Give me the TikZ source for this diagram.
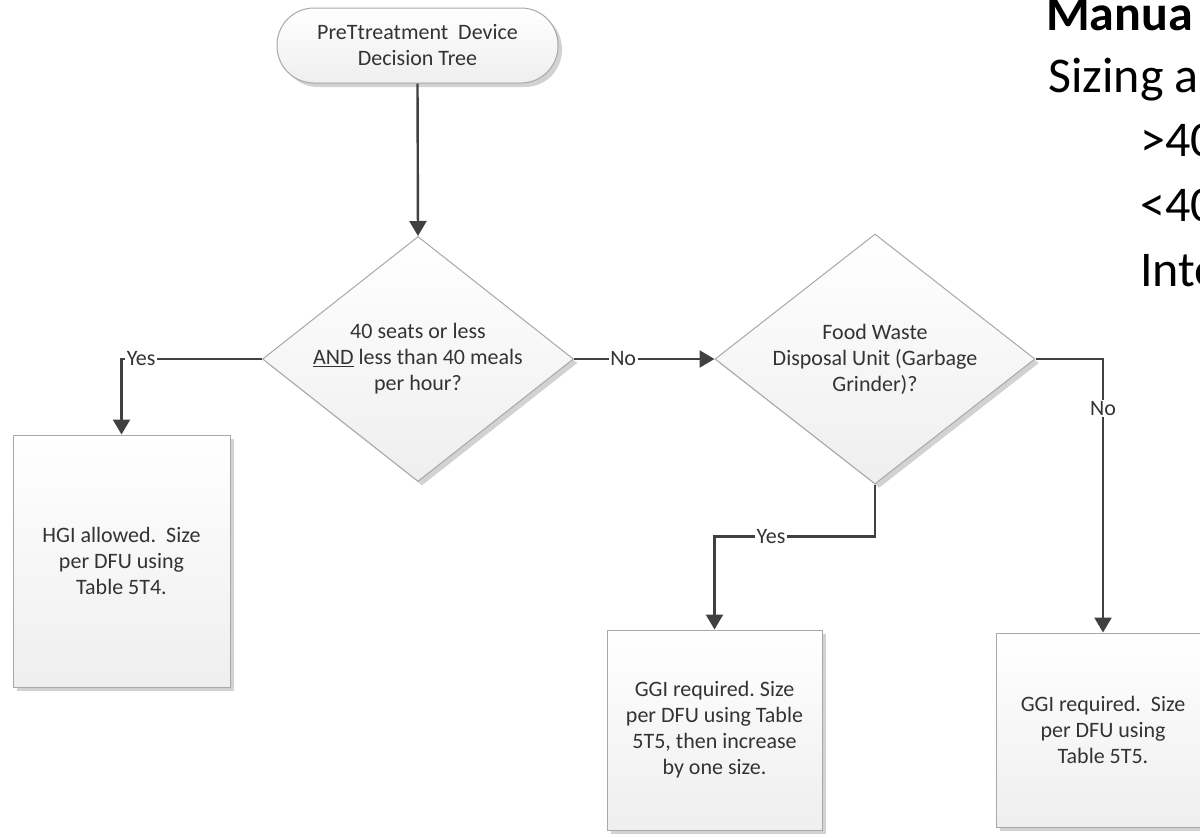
\documentclass[tikz,border=0pt]{standalone}
\usepackage{fontspec}
\setmainfont{Carlito}
\usetikzlibrary{shapes.geometric,arrows.meta,shadows}
\definecolor{linec}{HTML}{404040}
\definecolor{borderc}{HTML}{A8A8A8}
\definecolor{txtc}{HTML}{333333}
\begin{document}
\begin{tikzpicture}[x=1pt,y=-1pt,
  flowtxt/.style={font=\fontsize{22}{26}\selectfont, text=txtc, align=center},
  shapebase/.style={draw=borderc, line width=1pt, top color=white, bottom color=gray!13,
    drop shadow={shadow xshift=4pt, shadow yshift=-4pt, fill=gray!50, opacity=0.7},
    flowtxt, inner sep=0pt},
  terminal/.style={shapebase, rectangle, rounded corners=37pt, minimum width=281pt, minimum height=75pt},
  procbox/.style={shapebase, rectangle},
  decision/.style={shapebase, diamond, aspect=1.28},
  conn/.style={draw=linec, line width=2.4pt, -{Triangle[width=17pt,length=15pt]}},
  lbl/.style={fill=white, inner sep=1.5pt, font=\fontsize{22}{26}\selectfont, text=txtc},
  sidetxt/.style={anchor=base west, inner sep=0pt, font=\fontsize{50}{60}\selectfont, text=black}]
\useasboundingbox (0,0) rectangle (1200,838);
\clip (0,0) rectangle (1200,838);

% nodes
\node[terminal] (start) at (417.5,45.5) {PreTtreatment~~Device\\Decision Tree};
\node[decision, minimum width=311pt, minimum height=245pt] (d1) at (418,359)
  {40 seats or less\\\underline{AND} less than 40 meals\\per hour?};
\node[decision, minimum width=320pt, minimum height=250pt] (d2) at (875,359)
  {Food Waste\\Disposal Unit (Garbage\\Grinder)?};
\node[procbox, minimum width=217pt, minimum height=252pt] (b1) at (121.5,561)
  {HGI allowed.~~Size\\per DFU using\\Table 5T4.};
\node[procbox, minimum width=215pt, minimum height=200pt] (b2) at (714.5,730)
  {GGI required.~Size\\per DFU using Table\\5T5, then increase\\by one size.};
\node[procbox, minimum width=214pt, minimum height=194pt] (b3) at (1103,730)
  {GGI required.~~Size\\per DFU using\\Table 5T5.};

% connectors
\draw[conn] (start.south) -- (d1.north);
\draw[conn] (d1.west) -| (b1.north) node[lbl, pos=0.43] {Yes};
\draw[conn] (d1.east) -- (d2.west) node[lbl, pos=0.35] {No};
\draw[conn] (d2.east) -| (b3.north) node[lbl, pos=0.59] {No};
\draw[conn] (d2.south) -- ++(0,52) -| (b2.north) node[lbl, pos=0.324] {Yes};

% side text (cut by the right edge, as in the reference)
\node[sidetxt, font=\fontsize{50}{60}\selectfont\bfseries] (s1) at (1046,30) {Manua};
\node[sidetxt] (s2) at (1048,92) {Sizing a};
\node[sidetxt] (s3) at (1140,156) {>40};
\node[sidetxt] (s4) at (1140,221) {<40};
\node[sidetxt] (s5) at (1140,286) {Inte};
\end{tikzpicture}
\end{document}
